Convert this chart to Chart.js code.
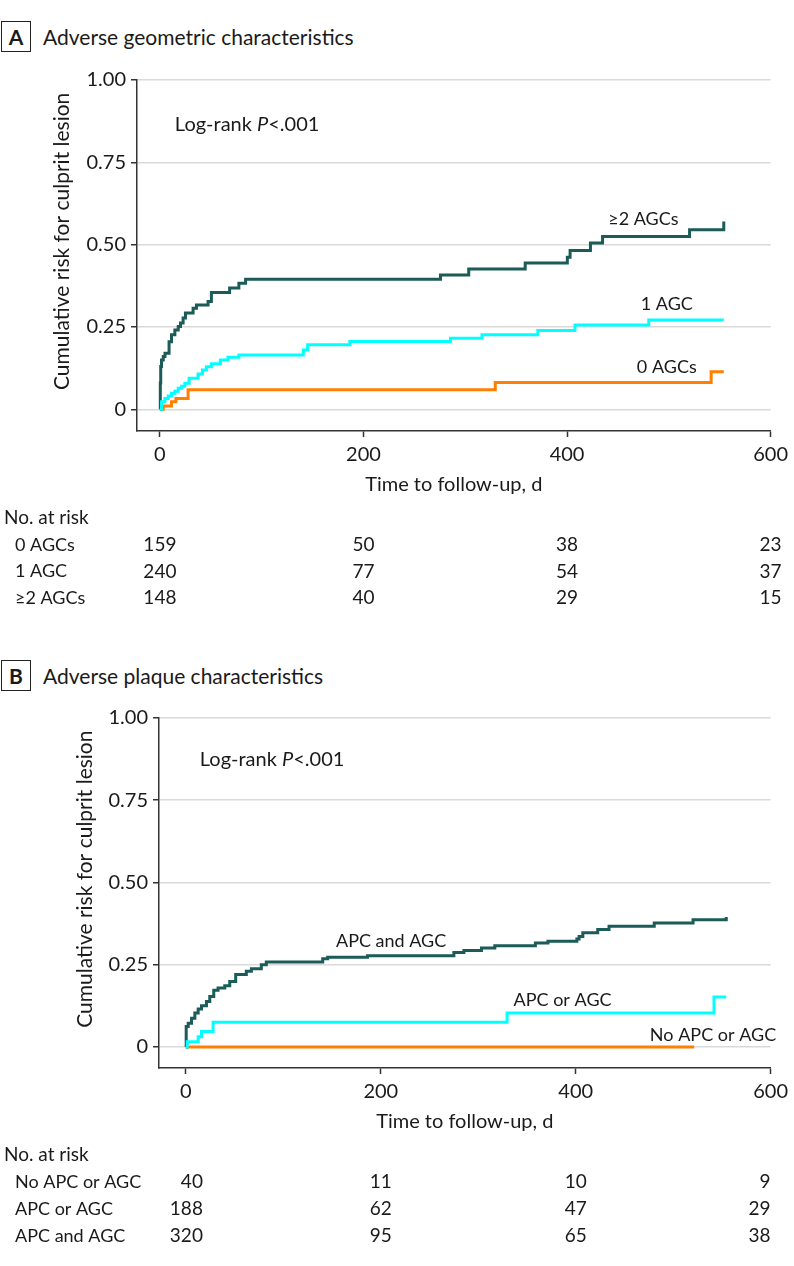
<!DOCTYPE html>
<html>
<head>
<meta charset="utf-8">
<script src="https://cdn.jsdelivr.net/npm/chart.js@4.4.1/dist/chart.umd.min.js"></script>
<style>
  html, body { margin: 0; padding: 0; background: #fff; }
  body { width: 794px; height: 1266px; position: relative; overflow: hidden; font-family: Lato, sans-serif; color: #1a1a1a; }
  .panel-title { position: absolute; left: 1px; height: 31px; display: flex; align-items: center; font-size: 21px; }
  .panel-title .tag { box-sizing: border-box; width: 30px; height: 31px; border: 1.5px solid #222; font-weight: bold; display: flex; align-items: center; justify-content: center; margin-right: 12px; }
  canvas { position: absolute; left: 0; }
</style>
</head>
<body>
<div class="panel-title" style="top:21px"><span class="tag">A</span>Adverse geometric characteristics</div>
<div class="panel-title" style="top:660px"><span class="tag">B</span>Adverse plaque characteristics</div>
<canvas id="chartA" width="794" height="630" style="top:0"></canvas>
<canvas id="chartB" width="794" height="633" style="top:633px"></canvas>
<script>
// ---- data ----
const xTickValues = [0, 200, 400, 600];
const yTickValues = [0, 0.25, 0.5, 0.75, 1];
const yTickLabels = ['0', '0.25', '0.50', '0.75', '1.00'];
const riskTimes = [0, 200, 400, 600];

// Panel A: adverse geometric characteristics
const agcGroups = ['0 AGCs', '1 AGC', '\u22652 AGCs'];
const agc0Times = [0, 3.3, 11.4, 15.7, 27.7, 329.5, 541.6, 554];
const agc0Risk = [0, 0.01, 0.023, 0.033, 0.059, 0.081, 0.114, 0.114];
const agc1Times = [0, 1.6, 4.9, 8.2, 11.4, 14.7, 18, 21.2, 24.5, 28.7, 37.5, 41.8, 45.7, 50.6, 59.4, 66.9, 77.6, 140.9, 145.2, 186.6, 285.5, 316.5, 371.3, 407.8, 480.3, 554];
const agc1Risk = [0, 0.023, 0.033, 0.04, 0.049, 0.055, 0.064, 0.07, 0.079, 0.094, 0.107, 0.119, 0.129, 0.138, 0.15, 0.158, 0.165, 0.18, 0.196, 0.206, 0.216, 0.226, 0.239, 0.256, 0.271, 0.271];
const agc2Times = [0, 0.4, 0.8, 1.6, 3.3, 5, 9, 11.4, 14.7, 18, 20.2, 22.8, 25.1, 32.6, 35.9, 47.3, 50.6, 68.5, 77.6, 84.2, 275.7, 303.4, 358.9, 400.3, 403, 423, 434.9, 520.4, 554];
const agc2Risk = [0, 0.08, 0.13, 0.15, 0.16, 0.17, 0.205, 0.226, 0.241, 0.251, 0.262, 0.277, 0.292, 0.307, 0.317, 0.327, 0.355, 0.368, 0.383, 0.395, 0.408, 0.426, 0.444, 0.462, 0.482, 0.505, 0.525, 0.545, 0.57];
const agcAtRisk = [[159, 50, 38, 23], [240, 77, 54, 37], [148, 40, 29, 15]];

// Panel B: adverse plaque characteristics
const apcGroups = ['No APC or AGC', 'APC or AGC', 'APC and AGC'];
const noneTimes = [0, 521.5];
const noneRisk = [0, 0];
const eitherTimes = [0, 1.4, 12.6, 16, 27.9, 329.6, 541.9, 554.5];
const eitherRisk = [0, 0.016, 0.031, 0.047, 0.075, 0.103, 0.152, 0.152];
const bothTimes = [0, 0.3, 2.4, 5.8, 9.2, 12.6, 16, 21.1, 24.5, 28.6, 33, 39.9, 45, 51.1, 62, 67.2, 77.4, 82.5, 140.4, 145.5, 186.4, 275, 285.3, 303.3, 317, 358.6, 371.5, 401.2, 403.5, 407.3, 422.6, 434.2, 480.6, 520.4, 554.5];
const bothRisk = [0, 0.062, 0.072, 0.087, 0.103, 0.115, 0.125, 0.138, 0.153, 0.172, 0.179, 0.186, 0.199, 0.22, 0.23, 0.238, 0.25, 0.258, 0.268, 0.273, 0.277, 0.287, 0.293, 0.301, 0.308, 0.316, 0.321, 0.328, 0.336, 0.347, 0.357, 0.367, 0.377, 0.387, 0.395];
const apcAtRisk = [[40, 11, 10, 9], [188, 62, 47, 29], [320, 95, 65, 38]];

// ---- styling ----
const FAMILY = 'Lato, sans-serif';
const TEXT = '#1a1a1a';
const AXIS = '#333333';
const GRID = '#d9d9d9';
const DARK = '#1b5b58';
const CYAN = '#00ffff';
const ORANGE = '#ff7f00';

const toPoints = (times, risk) => times.map((t, i) => ({ x: t, y: risk[i] }));

function kmLine(times, risk, color) {
  return {
    data: toPoints(times, risk),
    borderColor: color,
    borderWidth: 3,
    stepped: 'before',
    pointRadius: 0,
    fill: false,
    borderCapStyle: 'butt',
    borderJoinStyle: 'miter'
  };
}

// y title, curve labels, log-rank note and the number-at-risk table
const kmExtras = {
  id: 'kmExtras',
  afterDraw(chart, args, opts) {
    const { ctx, scales: { x, y } } = chart;
    ctx.save();
    ctx.fillStyle = TEXT;
    ctx.textBaseline = 'middle';

    // rotated y axis title, centred on the 0..1 range
    ctx.save();
    ctx.translate(opts.yTitleX, y.getPixelForValue(0.51));
    ctx.rotate(-Math.PI / 2);
    ctx.textAlign = 'center';
    ctx.font = `21px ${FAMILY}`;
    ctx.fillText('Cumulative risk for culprit lesion', 0, 0);
    ctx.restore();

    ctx.font = `18px ${FAMILY}`;
    opts.labels.forEach(l => {
      ctx.textAlign = 'center';
      ctx.fillText(l.text, x.getPixelForValue(l.x), y.getPixelForValue(l.y));
    });

    // Log-rank P<.001 with italic P
    let lx = x.getPixelForValue(opts.logRank.x);
    const ly = y.getPixelForValue(opts.logRank.y);
    ctx.textAlign = 'left';
    const parts = [['Log-rank ', 'normal'], ['P', 'italic'], ['<.001', 'normal']];
    parts.forEach(([s, style]) => {
      ctx.font = `${style} 20px ${FAMILY}`;
      ctx.fillText(s, lx, ly);
      lx += ctx.measureText(s).width;
    });

    ctx.textAlign = 'left';
    ctx.font = `19px ${FAMILY}`;
    ctx.fillText('No. at risk', 4, opts.riskTop);
    opts.groups.forEach((g, i) => {
      const rowY = opts.riskTop + (i + 1) * opts.rowGap;
      ctx.font = `18px ${FAMILY}`;
      ctx.textAlign = 'left';
      ctx.fillText(g, 15, rowY);
      ctx.font = `19px ${FAMILY}`;
      opts.counts[i].forEach((n, j) => {
        ctx.textAlign = opts.align[j];
        ctx.fillText(String(n), x.getPixelForValue(riskTimes[j]) + opts.shift[j], rowY);
      });
    });
    ctx.restore();
  }
};

function makeOptions(cfg) {
  return {
    responsive: false,
    animation: false,
    layout: { padding: { top: cfg.top, right: 21, left: 0, bottom: cfg.padBottom } },
    plugins: {
      legend: { display: false },
      tooltip: { enabled: false },
      kmExtras: cfg.extras
    },
    scales: {
      x: {
        type: 'linear',
        min: cfg.xMin,
        max: 600,
        afterBuildTicks: s => { s.ticks = xTickValues.map(v => ({ value: v })); },
        afterFit: s => { s.height = 66; },
        ticks: { color: TEXT, font: { family: FAMILY, size: 20 }, padding: 6, maxRotation: 0 },
        grid: { drawOnChartArea: false, tickLength: 6, tickColor: AXIS, tickWidth: 1.5 },
        border: { color: AXIS, width: 1.5 },
        title: { display: true, text: 'Time to follow-up, d', color: TEXT, font: { family: FAMILY, size: 20 }, padding: { top: 0, bottom: 0 } }
      },
      y: {
        type: 'linear',
        min: cfg.yMin,
        max: 1,
        afterBuildTicks: s => { s.ticks = yTickValues.map(v => ({ value: v })); },
        afterFit: s => { s.width = cfg.yWidth; },
        ticks: {
          color: TEXT,
          font: { family: FAMILY, size: 20 },
          padding: 5,
          callback: (v) => yTickLabels[yTickValues.indexOf(v)]
        },
        grid: { color: GRID, lineWidth: 1.5, tickLength: 6, tickColor: AXIS, tickWidth: 1.5 },
        border: { color: AXIS, width: 1.5 }
      }
    }
  };
}

new Chart(document.getElementById('chartA'), {
  type: 'line',
  data: {
    datasets: [
      kmLine(agc1Times, agc1Risk, CYAN),
      kmLine(agc2Times, agc2Risk, DARK),
      kmLine(agc0Times, agc0Risk, ORANGE)
    ]
  },
  options: makeOptions({
    top: 80, padBottom: 133, xMin: -22.5, yMin: -0.066, yWidth: 137,
    extras: {
      yTitleX: 62,
      labels: [
        { text: '\u22652 AGCs', x: 475, y: 0.578 },
        { text: '1 AGC', x: 498, y: 0.32 },
        { text: '0 AGCs', x: 498, y: 0.129 }
      ],
      logRank: { x: 14.7, y: 0.864 },
      groups: agcGroups,
      counts: agcAtRisk,
      riskTop: 518,
      rowGap: 26.7,
      align: ['center', 'center', 'center', 'center'],
      shift: [0, 0, 0, 0]
    }
  }),
  plugins: [kmExtras]
});

new Chart(document.getElementById('chartB'), {
  type: 'line',
  data: {
    datasets: [
      kmLine(eitherTimes, eitherRisk, CYAN),
      kmLine(bothTimes, bothRisk, DARK),
      kmLine(noneTimes, noneRisk, ORANGE)
    ]
  },
  options: makeOptions({
    top: 85, padBottom: 132, xMin: -27.6, yMin: -0.064, yWidth: 159,
    extras: {
      yTitleX: 85,
      labels: [
        { text: 'APC and AGC', x: 210.6, y: 0.32 },
        { text: 'APC or AGC', x: 386.5, y: 0.143 },
        { text: 'No APC or AGC', x: 540.9, y: 0.037 }
      ],
      logRank: { x: 14.3, y: 0.875 },
      groups: apcGroups,
      counts: apcAtRisk,
      riskTop: 522,
      rowGap: 27,
      align: ['right', 'center', 'center', 'right'],
      shift: [17, 0, 0, 0]
    }
  }),
  plugins: [kmExtras]
});
</script>
</body>
</html>
